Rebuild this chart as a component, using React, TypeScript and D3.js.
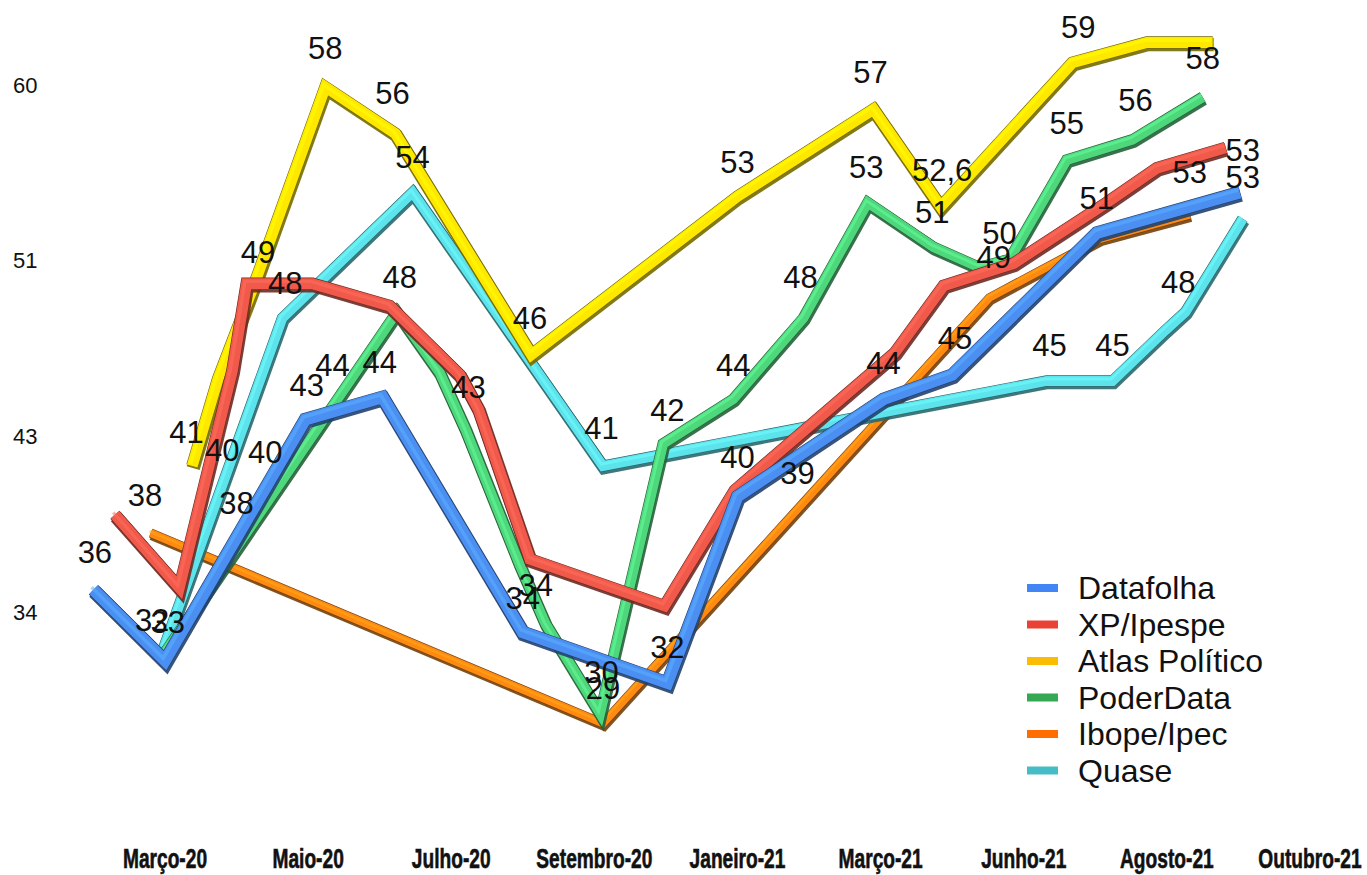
import React from "react";
import * as d3 from "d3";

// x positions are category indices (0 = Março-20 ... 8 = Outubro-21), fractional = between labels
const X_LABELS = ["Março-20", "Maio-20", "Julho-20", "Setembro-20", "Janeiro-21", "Março-21", "Junho-21", "Agosto-21", "Outubro-21"];
const Y_TICKS = [34, 42.67, 51.33, 60];

const SERIES_NAMES = ["Datafolha", "XP/Ipespe", "Atlas Político", "PoderData", "Ibope/Ipec", "Quase"];
const LEGEND_COLORS = ["#4285F4", "#EA4335", "#FBBC04", "#34A853", "#FF6D01", "#46BDC6"];
const LINE_COLORS = ["#4b8ff2", "#f15a4b", "#ffe800", "#4fd77c", "#ff8a12", "#5ce3ec"];

const datafolha: [number, number][] = [[-0.5, 35.1], [0, 31.6], [0.98, 43.5], [1.52, 44.6], [2.5, 33.0], [3.51, 30.5], [4, 39.7], [5.02, 44.5], [5.5, 45.7], [6.51, 52.7], [7.51, 54.7]];
const xpIpespe: [number, number][] = [[-0.35, 38.8], [0.1, 35.2], [0.47, 45.9], [0.57, 50.2], [1.03, 50.2], [1.57, 49.1], [2.06, 45.7], [2.19, 44.0], [2.55, 36.6], [3.49, 34.3], [3.98, 40.0], [5.1, 46.8], [5.44, 50.1], [5.93, 51.2], [6.58, 54.2], [6.93, 55.9], [7.41, 56.9]];
const atlas: [number, number][] = [[0.19, 41.2], [0.37, 45.5], [0.62, 50.1], [1.12, 59.9], [1.61, 57.6], [2.56, 46.7], [4, 54.5], [4.95, 58.8], [5.42, 54.0], [6.34, 61.1], [6.86, 62.1], [7.32, 62.1]];
const poderData: [number, number][] = [[-0.01, 31.9], [1.62, 48.8], [1.92, 45.8], [2.1, 43.0], [2.48, 36.3], [2.66, 33.4], [3.04, 29.0], [3.48, 42.3], [3.97, 44.5], [4.46, 48.5], [4.91, 54.2], [5.37, 52.0], [5.69, 51.0], [5.9, 51.4], [6.3, 56.3], [6.76, 57.3], [7.25, 59.4]];
const ibope: [number, number][] = [[-0.1, 37.9], [3.06, 28.5], [5.76, 49.5], [6.53, 52.4], [7.16, 53.6]];
const quase: [number, number][] = [[-0.01, 32.2], [0.82, 48.5], [1.73, 54.7], [3.06, 41.2], [6.16, 45.4], [6.62, 45.4], [6.99, 47.9], [7.13, 48.8], [7.53, 53.4]];

const SERIES = [datafolha, xpIpespe, atlas, poderData, ibope, quase];
const WIDTHS = [12, 11, 11, 10, 8, 10];
const DRAW_ORDER = [4, 5, 2, 3, 1, 0];

// data labels: [x index, value position, text]
const LABELS: [number, number, string][] = [
  [-0.49, 36.96, "36"], [-0.14, 39.77, "38"], [0.15, 42.88, "41"], [0.4, 41.99, "40"], [0.7, 41.89, "40"],
  [0.5, 39.38, "38"], [-0.09, 33.61, "32"], [0.02, 33.51, "33"], [0.65, 51.76, "49"], [0.84, 50.23, "48"],
  [1.12, 61.83, "58"], [1.59, 59.61, "56"], [1.73, 56.45, "54"], [1.64, 50.53, "48"], [0.99, 45.2, "43"],
  [1.17, 46.19, "44"], [1.5, 46.33, "44"], [2.12, 45.1, "43"], [2.55, 48.5, "46"], [2.59, 35.33, "34"],
  [2.5, 34.69, "34"], [3.05, 43.08, "41"], [3.05, 31.04, "30"], [3.06, 30.25, "29"], [3.51, 32.27, "32"],
  [3.51, 43.97, "42"], [3.97, 46.19, "44"], [4, 41.65, "40"], [4.42, 40.86, "39"], [4.44, 50.53, "48"],
  [4, 56.2, "53"], [4.93, 60.64, "57"], [4.9, 55.95, "53"], [5.02, 46.28, "44"], [5.43, 55.81, "52,6"],
  [5.36, 53.73, "51"], [5.83, 52.7, "50"], [5.79, 51.51, "49"], [5.52, 47.52, "45"], [6.18, 47.17, "45"],
  [6.62, 47.17, "45"], [7.08, 50.28, "48"], [6.51, 54.43, "51"], [7.16, 55.71, "53"], [7.53, 56.79, "53"],
  [7.53, 55.46, "53"], [6.3, 58.13, "55"], [6.78, 59.26, "56"], [6.38, 62.86, "59"], [7.25, 61.33, "58"],
];

const W = 1367;
const H = 875;

export default function App() {
  const x = d3.scaleLinear().domain([0, 8]).range([165, 1310]);
  const y = d3.scaleLinear().domain([34, 60]).range([612, 85]);
  const line = d3.line<[number, number]>().x((d) => x(d[0])).y((d) => y(d[1]));
  const fmt = d3.format(".0f");
  const font = "'Liberation Sans', Arial, Helvetica, sans-serif";

  return (
    <svg width={W} height={H} style={{ position: "absolute", left: 0, top: 0, background: "#fff" }}>
      <rect width={W} height={H} fill="#fff" />
      {Y_TICKS.map((t) => (
        <text key={t} x={13} y={y(t)} dy="0.35em" fontFamily={font} fontSize={22} fill="#111">
          {fmt(t)}
        </text>
      ))}
      {X_LABELS.map((l, i) => (
        <text
          key={l}
          transform={`translate(${x(i)},868) scale(0.71,1)`}
          textAnchor="middle"
          fontFamily="'Liberation Sans Narrow', 'Liberation Sans', Arial, sans-serif"
          fontWeight="bold"
          fontSize={27}
          fill="#111"
          stroke="#111"
          strokeWidth={0.6}
        >
          {l}
        </text>
      ))}
      {DRAW_ORDER.map((si) => {
        const d = line(SERIES[si]) || "";
        const c = LINE_COLORS[si];
        const w = WIDTHS[si];
        const dark = d3.color(c)!.darker(2.2).formatHex();
        const light = d3.color(c)!.brighter(0.6).formatHex();
        return (
          <g key={si} fill="none" strokeLinejoin="miter" strokeMiterlimit={6} strokeLinecap="butt">
            <path d={d} stroke={dark} strokeWidth={w + 2.5} transform="translate(1,2)" opacity={0.9} />
            <path d={d} stroke={dark} strokeWidth={w + 1.2} />
            <path d={d} stroke={c} strokeWidth={w} />
            <path d={d} stroke={light} strokeWidth={w * 0.3} transform={`translate(${-w * 0.15},${-w * 0.2})`} opacity={0.55} />
          </g>
        );
      })}
      {LABELS.map(([i, v, t], k) => (
        <text key={k} x={x(i)} y={y(v)} dy="0.36em" textAnchor="middle" fontFamily={font} fontSize={31} fill="#111">
          {t}
        </text>
      ))}
      {SERIES_NAMES.map((n, k) => {
        const cy = 588 + k * 36.5;
        return (
          <g key={n}>
            <rect x={1027} y={cy - 4} width={31} height={8} fill={LEGEND_COLORS[k]} />
            <text x={1078} y={cy + 11} fontFamily={font} fontSize={32} fill="#111">
              {n}
            </text>
          </g>
        );
      })}
    </svg>
  );
}
